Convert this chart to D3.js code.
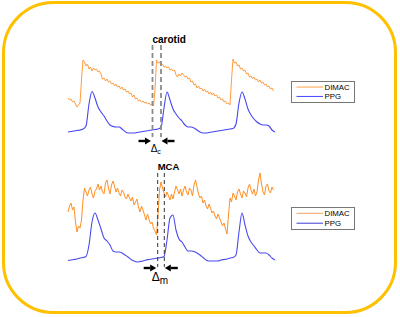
<!DOCTYPE html>
<html><head><meta charset="utf-8">
<script src="https://cdn.jsdelivr.net/npm/d3@7"></script>
<style>html,body{margin:0;padding:0;background:#fff;}svg{display:block;}</style>
</head><body>
<svg id="chart" width="400" height="317"></svg>
<script>
// ---- data ----
const dtDimac = 0.015; // s per DIMAC sample
const dtPpg = 0.03;    // s per PPG sample
const seriesNames = ["DIMAC", "PPG"];
const panelLabels = ["carotid", "MCA"];
const deltaSubs = ["c", "m"];

const carotidDimac = [37,35,36,33,34,31,28,30,32,55,
 75,73,69,71,66,68,64,67,65,66,
 63,64,61,56,57,54,56,53,54,51,
 52,49,51,48,49,46,48,45,46,43,
 44,41,42,38,40,36,37,34,35,33,
 34,32,33,31,32,30,31,29,45,75,
 72,73,70,71,68,69,67,68,65,66,
 64,65,60,58,61,59,62,60,58,59,
 56,57,53,54,50,51,47,49,46,47,
 44,46,43,44,41,43,40,42,39,40,
 37,38,35,36,33,34,31,32,30,55,
 76,72,73,69,70,66,67,64,65,61,
 62,58,59,56,58,55,56,53,55,52,
 53,50,51,48,49,46,47,44];
const carotidPpg = [3,3.5,4,4.5,5,6,9,31,43.5,37,
 28,23,19,14,10,8.5,8,8,6,3.5,
 2,2,2,2.5,3,3.5,4,4.5,5,5.5,
 6,7.5,27,43,35,26,21,17,14,10,
 8,8,7,5,3,2,2,2.5,3,3.5,
 4,4.5,5,5.5,6,6.5,11,32,43,36,
 26,20,16,13,11,10,10,9,5,3];
const mcaDimac = [50,56,59,52,55,40,30,36,34,42,
 62,74,70,66,72,75,68,64,71,73,
 78,72,76,70,68,79,82,74,68,77,
 81,76,70,74,69,66,72,70,65,63,
 68,64,61,65,57,60,63,55,50,56,
 52,47,42,48,43,38,40,34,31,27,
 47,72,80,74,69,65,70,66,62,68,
 63,70,76,72,68,73,66,72,76,70,
 67,74,72,66,77,82,75,68,64,66,
 59,62,56,53,58,54,49,51,46,43,
 48,44,40,36,39,33,28,47,64,60,
 69,66,62,70,73,68,64,71,69,65,
 74,78,72,68,73,66,70,82,89,78,
 70,67,76,78,71,69,75,72];
const mcaPpg = [1.5,2,2.5,3,4,4.5,5.5,17,40,49,
 42,33,24,21,17,11,10,10,9,7,
 5,2.5,1,0,0.5,1,2,2.5,3,3.5,
 4,4.5,5.5,22,44,47,32,23,20,15,
 11,11,10.5,9,7,4.5,2,1,1,1,
 1,2,2.5,3,4,4.5,7,30,49,37,
 26,20,16,12,9,9,9,7,4,2];
// foot (onset) times of DIMAC and PPG in s
const carotidOnsets = [0.845, 0.93];
const mcaOnsets = [0.897, 0.963];

// ---- drawing ----
const svg = d3.select("#chart");
svg.append("rect").attr("x", 3.5).attr("y", 2.5).attr("width", 392).attr("height", 310)
  .attr("rx", 50).attr("ry", 50).attr("fill", "#fff").attr("stroke", "#FFC000").attr("stroke-width", 3);

const x = d3.scaleLinear().domain([0, 2.07]).range([68, 275]);
const font = "'Liberation Sans', Arial, Helvetica, sans-serif";

const panels = [
  {dimac: carotidDimac, ppg: carotidPpg, onsets: carotidOnsets, label: panelLabels[0], sub: deltaSubs[0],
   y: d3.scaleLinear().domain([0, 80]).range([135, 55]),
   orange: "#ff9c3e", blue: "#4646f2", dash: "#8c8c8c", dashW: 1.8, dashArr: "5,3",
   dashTop: 45, dashBot: 137, labelY: 43, labelSize: 10, arrowY: 141, deltaY: 152, deltaSize: 10, subSize: 7,
   legY: 81, legEnd: 102, legBlue: "#4444ff", legOrange: "#ffa040", legStroke: "#777"},
  {dimac: mcaDimac, ppg: mcaPpg, onsets: mcaOnsets, label: panelLabels[1], sub: deltaSubs[1],
   y: d3.scaleLinear().domain([0, 90]).range([262, 172]),
   orange: "#ff8f22", blue: "#4a4aee", dash: "#333", dashW: 1, dashArr: "4,3",
   dashTop: 173, dashBot: 267, labelY: 170, labelSize: 9.5, arrowY: 268, deltaY: 280.5, deltaSize: 12, subSize: 10,
   legY: 207, legEnd: 229, legBlue: "#3a3ad0", legOrange: "#f4a060", legStroke: "#777"}
];

panels.forEach(p => {
  const g = svg.append("g");
  const lineD = d3.line().x((d, i) => x(i * dtDimac)).y(d => p.y(d));
  const lineP = d3.line().x((d, i) => x(i * dtPpg)).y(d => p.y(d)).curve(d3.curveMonotoneX);
  g.append("path").datum(p.dimac).attr("d", lineD).attr("fill", "none")
    .attr("stroke", p.orange).attr("stroke-width", 1).attr("stroke-linejoin", "round");
  g.append("path").datum(p.ppg).attr("d", lineP).attr("fill", "none")
    .attr("stroke", p.blue).attr("stroke-width", 1.1);

  // dashed onset markers
  g.selectAll("line.onset").data(p.onsets).join("line").attr("class", "onset")
    .attr("x1", d => x(d)).attr("x2", d => x(d))
    .attr("y1", p.dashTop).attr("y2", p.dashBot)
    .attr("stroke", p.dash).attr("stroke-width", p.dashW).attr("stroke-dasharray", p.dashArr);

  // label
  g.append("text").attr("x", x(p.onsets[0])).attr("y", p.labelY)
    .attr("font-family", font).attr("font-weight", "bold").attr("font-size", p.labelSize)
    .attr("fill", "#000").text(p.label);

  // arrows
  const xa = x(p.onsets[0]), xb = x(p.onsets[1]);
  const ay = p.arrowY;
  const drawArrow = (tail, tip) => {
    const dir = Math.sign(tip - tail);
    const headLen = 6, headHalf = 3.6;
    g.append("line").attr("x1", tail).attr("x2", tip - dir * headLen).attr("y1", ay).attr("y2", ay)
      .attr("stroke", "#000").attr("stroke-width", 2.4);
    g.append("path").attr("d", `M${tip},${ay} L${tip - dir * headLen},${ay - headHalf} L${tip - dir * headLen},${ay + headHalf} Z`)
      .attr("fill", "#000");
  };
  drawArrow(xa - 14, xa - 1.5);
  drawArrow(xb + 13.5, xb + 0.5);

  // delta label
  const dt = g.append("text").attr("x", (xa + xb) / 2 - 1).attr("y", p.deltaY)
    .attr("font-family", font).attr("font-size", p.deltaSize).attr("text-anchor", "middle").attr("fill", "#000");
  dt.append("tspan").text("Δ");
  dt.append("tspan").attr("font-size", p.subSize).attr("dy", p.subSize * 0.3).text(p.sub);

  // legend
  const lx = 291, lw = 63;
  g.append("rect").attr("x", lx + 0.5).attr("y", p.legY + 0.5).attr("width", lw).attr("height", p.legEnd - p.legY)
    .attr("fill", "#fff").attr("stroke", p.legStroke).attr("stroke-width", 1);
  const rowH = (p.legEnd - p.legY) / 2;
  const cols = [p.legOrange, p.legBlue];
  seriesNames.forEach((name, i) => {
    const yy = p.legY + rowH * (i + 0.5) + 0.5 - (i === 0 ? -0.3 : 0.8);
    g.append("line").attr("x1", 296.5).attr("x2", 323).attr("y1", yy).attr("y2", yy)
      .attr("stroke", cols[i]).attr("stroke-width", 1);
    g.append("text").attr("x", 324.5).attr("y", yy + 3)
      .attr("font-family", font).attr("font-size", 7.8).attr("fill", "#000").text(name);
  });
});
</script>
</body></html>
